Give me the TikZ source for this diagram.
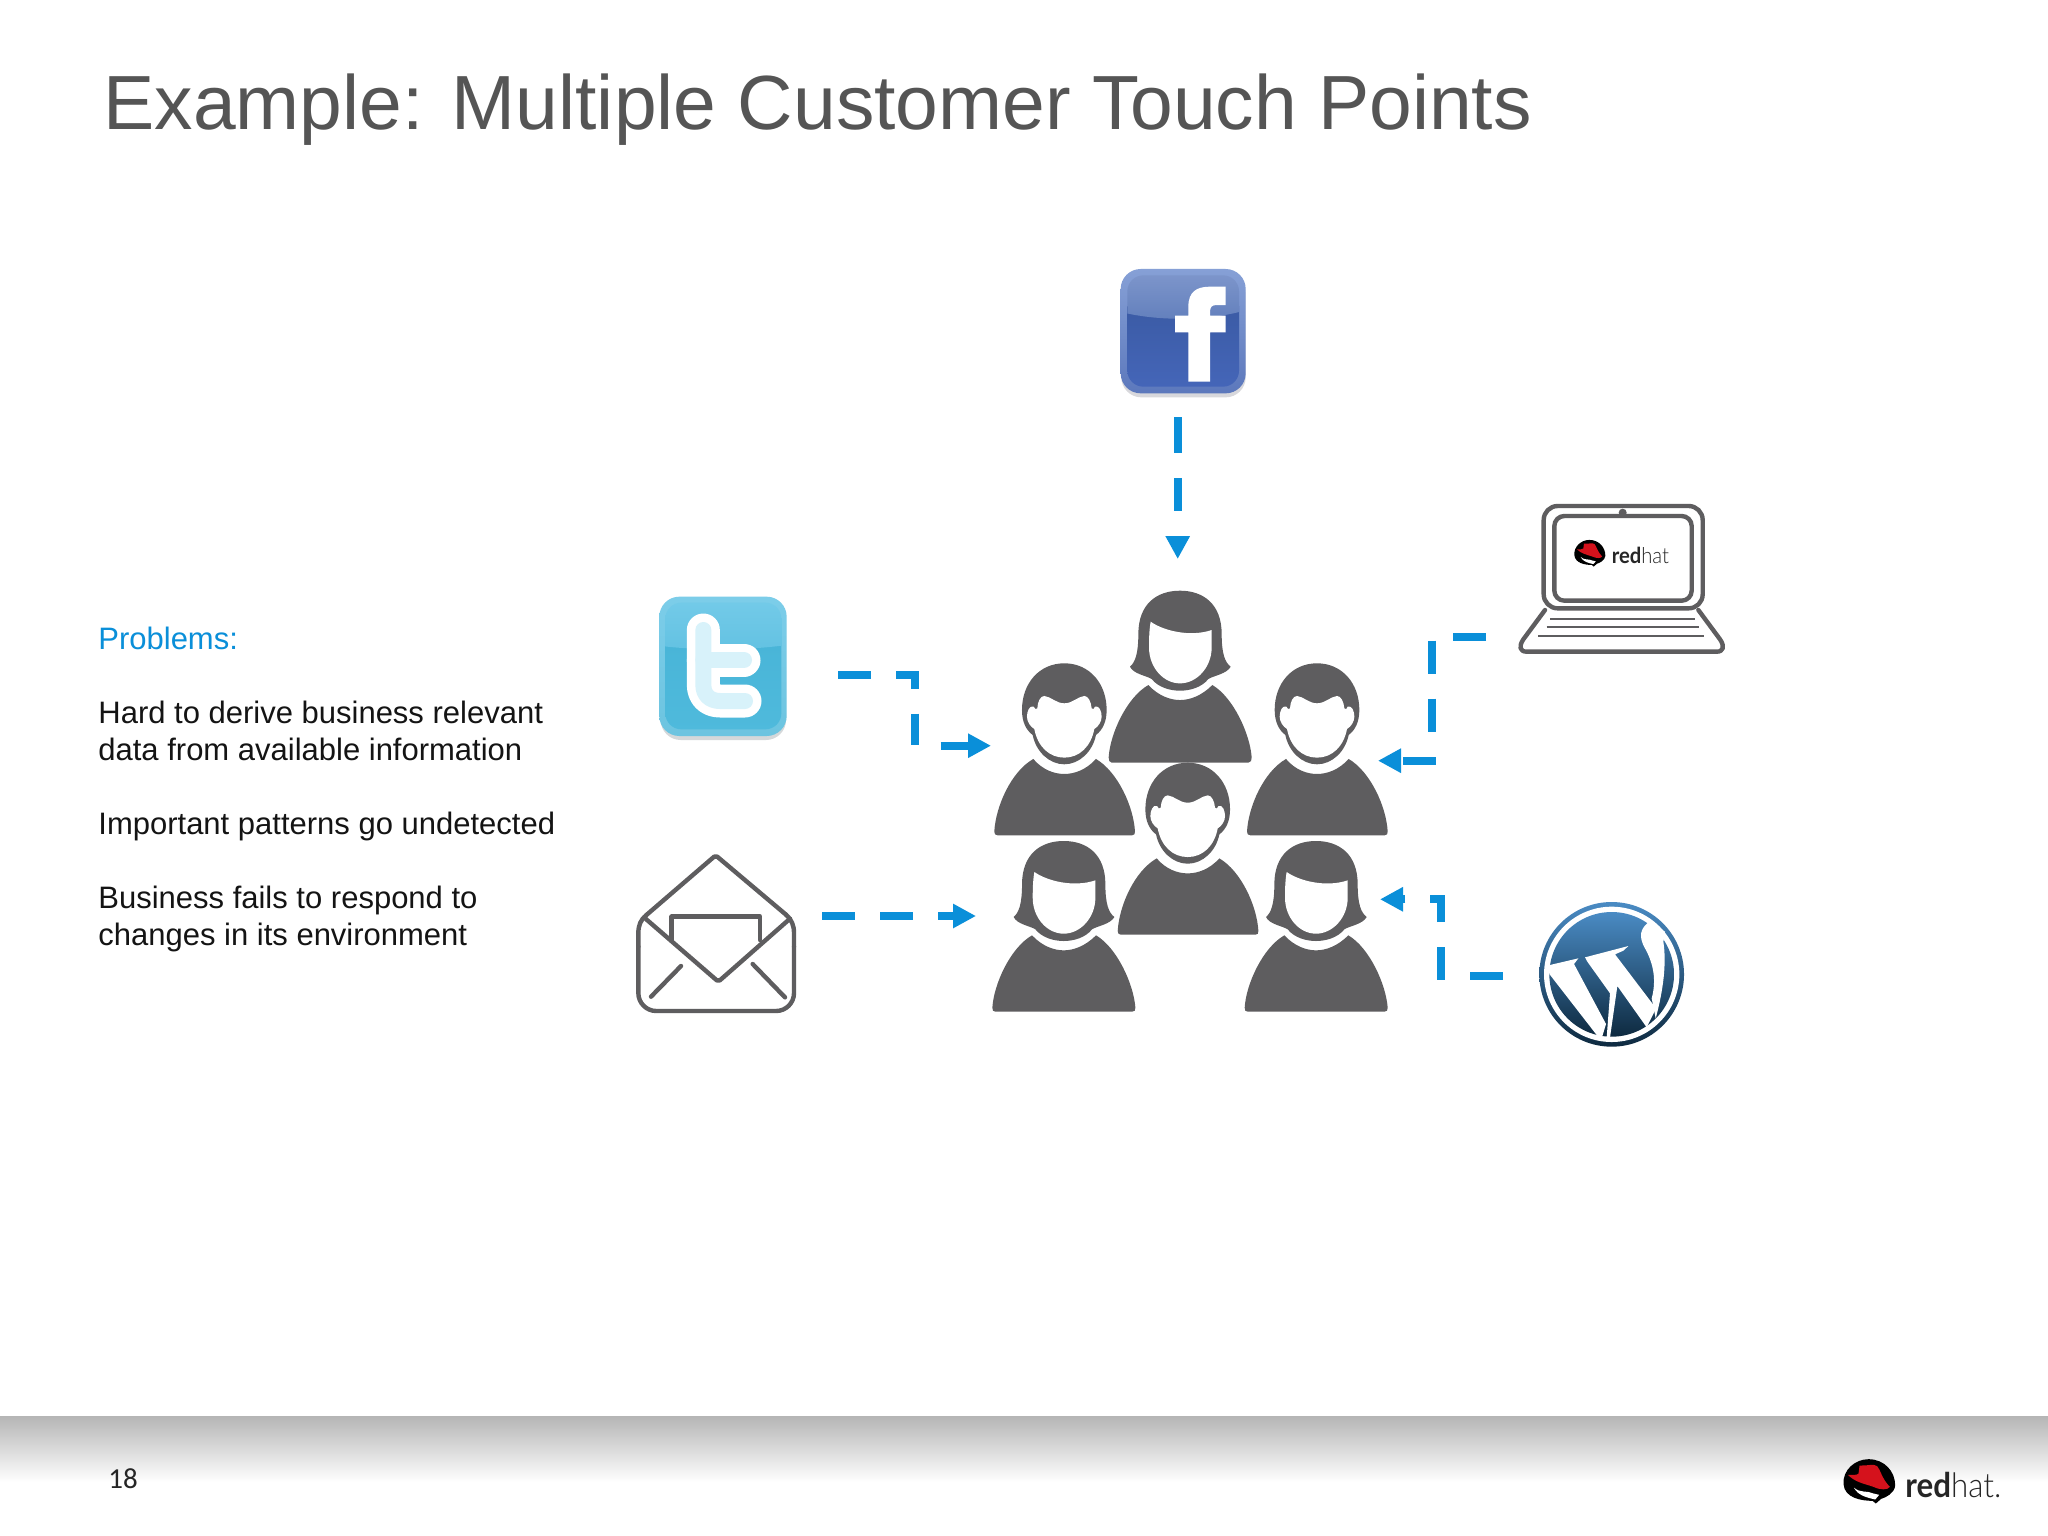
\documentclass[tikz,border=0pt]{standalone}
\usepackage{fontspec}
\setmainfont{Liberation Sans}
\newfontfamily\footfont{Carlito}
\newfontfamily\rhbold{Lato}[BoldFont=Lato Bold,FakeStretch=0.92]
\newfontfamily\rhlight{Lato Light}[FakeStretch=0.92]
\usetikzlibrary{arrows.meta}
\definecolor{rhblue}{HTML}{0A8FD9}
\definecolor{icongray}{HTML}{5E5D5F}
\definecolor{titlegray}{HTML}{555555}
\definecolor{hatred}{HTML}{D5121C}
\tikzset{
  x=0.5pt,y=-0.5pt,
  zoomed/.style={x=0.1666667pt,y=-0.1666667pt},
  conn/.style={draw=rhblue,line width=4pt,dash pattern=on 16.5pt off 12.5pt,line cap=butt,line join=miter,
    -{Triangle[length=11.5pt,width=11.5pt,fill=rhblue]}},
  body/.style={anchor=base west,inner sep=0pt,font=\fontsize{15.5}{18}\selectfont,text=black!92},
  titletext/.style={anchor=base west,inner sep=0pt,font=\fontsize{38.4}{40}\selectfont,text=titlegray},
  outline/.style={draw=icongray,line width=2.2pt,line cap=round,line join=round},
  thinline/.style={draw=icongray,line width=1pt},
  pics/woman/.style={code={\begin{scope}[zoomed]
    \fill[icongray] (-150,228) .. controls (-135,215) and (-125,190) .. (-125,130) .. controls (-125,40) and (-70,0) .. (0,0) .. controls (70,0) and (125,40) .. (125,130) .. controls (125,190) and (135,215) .. (152,228) .. controls (140,250) and (100,255) .. (85,265) .. controls (65,290) and (30,300) .. (0,300) .. controls (-30,300) and (-65,290) .. (-85,265) .. controls (-100,255) and (-140,250) .. (-150,228) -- cycle;
    \fill[white] (-88,93) .. controls (-50,120) and (30,140) .. (95,118) -- (95,170) .. controls (95,230) and (50,278) .. (0,278) .. controls (-50,278) and (-93,230) .. (-93,170) .. controls (-93,140) and (-92,115) .. (-88,93) -- cycle;
    \fill[icongray] (-95,283) .. controls (-65,315) and (-30,328) .. (0,328) .. controls (30,328) and (65,315) .. (97,283) .. controls (160,320) and (210,430) .. (215,500) .. controls (215,508) and (213,#1) .. (205,#1) -- (-205,#1) .. controls (-212,#1) and (-214,508) .. (-214,500) .. controls (-210,430) and (-160,320) .. (-95,283) -- cycle;
  \end{scope}}},
  pics/woman/.default=516,
  pics/man/.style={code={\begin{scope}[zoomed]
    \fill[icongray] (0,0) .. controls (75,0) and (127,60) .. (127,140) .. controls (127,175) and (115,200) .. (95,215) .. controls (85,265) and (45,303) .. (0,303) .. controls (-45,303) and (-85,265) .. (-95,215) .. controls (-115,200) and (-127,175) .. (-127,140) .. controls (-127,60) and (-75,0) .. (0,0) -- cycle;
    \fill[white] (-81,135) .. controls (-80,115) and (-72,98) .. (-60,98) .. controls (-40,100) and (-25,120) .. (0,120) .. controls (25,120) and (40,100) .. (60,98) .. controls (72,98) and (80,115) .. (82,135) .. controls (85,140) and (88,138) .. (92,130) .. controls (105,125) and (112,145) .. (112,160) .. controls (112,175) and (102,190) .. (90,197) .. controls (80,250) and (45,283) .. (0,283) .. controls (-45,283) and (-80,250) .. (-90,197) .. controls (-102,190) and (-112,175) .. (-112,160) .. controls (-112,145) and (-105,125) .. (-92,130) .. controls (-88,138) and (-85,140) .. (-81,135) -- cycle;
    \fill[icongray] (-93,287) .. controls (-65,320) and (-30,332) .. (0,332) .. controls (30,332) and (65,320) .. (95,287) .. controls (160,325) and (208,430) .. (212,505) .. controls (212,512) and (210,516) .. (203,516) -- (-200,516) .. controls (-207,516) and (-210,512) .. (-210,505) .. controls (-206,430) and (-160,325) .. (-93,287) -- cycle;
  \end{scope}}},
}
% red hat emblem; #1 = pt per unit, drawn around the current origin
\newcommand\rhemblem[1]{%
  \begin{scope}[x=#1pt,y=-#1pt]
    \fill[black] (-75,8) .. controls (-78,-35) and (-40,-67) .. (0,-67) .. controls (48,-67) and (80,-30) .. (80,12) .. controls (78,35) and (52,48) .. (38,52) -- (22,66) -- (12,58) .. controls (-20,58) and (-72,50) .. (-75,8) -- cycle;
    \fill[hatred] (-27,-48) .. controls (-5,-46) and (15,-55) .. (26,-46) .. controls (36,-35) and (40,-8) .. (64,16) .. controls (58,26) and (35,26) .. (15,16) .. controls (-15,6) and (-40,2) .. (-62,-20) .. controls (-50,-20) and (-35,-18) .. (-30,-24) -- cycle;
    \fill[white] (-44,18) .. controls (-25,36) and (-5,26) .. (15,36) -- (32,40) -- (20,54) .. controls (-5,48) and (-32,42) .. (-44,18) -- cycle;
  \end{scope}}
\begin{document}
\begin{tikzpicture}
\useasboundingbox (0,0) rectangle (2048,1535);
\fill[white] (0,0) rectangle (2048,1535);
% footer band
\shade[top color=black!29,bottom color=white] (0,1416) rectangle (2048,1482);
% title and text
\node[titletext] (title) at (103,130) {Example: Multiple Customer Touch Points};
\node[body,text=rhblue] (problems) at (98,649) {Problems:};
\node[body] (p1a) at (98,723) {Hard to derive business relevant};
\node[body] (p1b) at (98,760) {data from available information};
\node[body] (p2) at (98,834) {Important patterns go undetected};
\node[body] (p3a) at (98,908) {Business fails to respond to};
\node[body] (p3b) at (98,945) {changes in its environment};
\node[anchor=base west,inner sep=0pt,font=\footfont\fontsize{14.5}{16}\selectfont,text=black!85] (page) at (108,1488) {18};
% people
\pic at (1180,590.7) {woman};
\pic at (1064.3,663.3) {man};
\pic at (1317,663.3) {man};
\pic at (1187.7,762.7) {man};
\pic at (1063.7,841) {woman=512};
\pic at (1316,841) {woman=512};
% facebook icon
\begin{scope}[shift={(1080,250)},zoomed]
  \definecolor{fbs}{HTML}{D8D8DC}
  \definecolor{fbo}{HTML}{86A0D6}\definecolor{fbp}{HTML}{5C78BC}
  \fill[fbs,rounded corners=10pt] (124,72) rectangle (497,442);
  \shade[rounded corners=10pt,top color=fbo,bottom color=fbp] (122,57) rectangle (497,430);
  \begin{scope}
    \clip[rounded corners=8pt] (142,76) rectangle (477,410);
    \definecolor{fbl}{HTML}{3B5BA5}\definecolor{fbm}{HTML}{4566B9}
    \shade[top color=fbl,bottom color=fbm] (100,170) rectangle (500,420);
    \definecolor{fbt}{HTML}{7F97CC}\definecolor{fbu}{HTML}{627FBC}
    \shade[top color=fbt,bottom color=fbu] (100,60) -- (100,180) .. controls (220,215) and (380,215) .. (500,180) -- (500,60) -- cycle;
  \end{scope}
  \fill[white] (325,395) -- (325,247) -- (285,247) -- (285,197) -- (325,197) -- (325,170) .. controls (325,125) and (350,110) .. (390,110) -- (437,110) -- (437,165) -- (410,165) .. controls (395,165) and (390,172) .. (390,185) -- (390,197) -- (437,197) -- (437,247) -- (390,247) -- (390,395) -- cycle;
\end{scope}
% twitter icon
\begin{scope}[shift={(620,580)},zoomed]
  \definecolor{twa}{HTML}{7CCDE9}\definecolor{twb}{HTML}{6CC4E0}\definecolor{tws}{HTML}{D4D8DA}
  \fill[tws,rounded corners=10pt] (122,72) rectangle (498,480);
  \shade[rounded corners=10pt,top color=twa,bottom color=twb] (118,50) rectangle (500,468);
  \begin{scope}
    \clip[rounded corners=8pt] (136,68) rectangle (484,448);
    \definecolor{twc}{HTML}{49B5D8}\definecolor{twd}{HTML}{4FBADC}
    \shade[top color=twc,bottom color=twd] (100,190) rectangle (500,460);
    \definecolor{twe}{HTML}{74CBE9}\definecolor{twf}{HTML}{63C2E2}
    \shade[top color=twe,bottom color=twf] (100,50) -- (100,195) .. controls (220,212) and (380,212) .. (500,195) -- (500,50) -- cycle;
  \end{scope}
  \draw[white,line width=16.5pt,line cap=round,line join=round] (250,150) -- (250,315) .. controls (250,345) and (270,363) .. (300,363) -- (375,363);
  \draw[white,line width=16.5pt,line cap=round] (250,240) -- (372,240);
  \definecolor{twi}{HTML}{D8F2FA}
  \draw[twi,line width=8pt,line cap=round,line join=round] (250,150) -- (250,315) .. controls (250,345) and (270,363) .. (300,363) -- (375,363);
  \draw[twi,line width=8pt,line cap=round] (250,240) -- (372,240);
\end{scope}
% envelope icon
\begin{scope}[shift={(620,580)},zoomed]
  \draw[outline,rounded corners=9pt] (55,1100) -- (55,1293) -- (522,1293) -- (522,1100);
  \draw[outline] (55,1100) -- (55,1060) .. controls (55,1035) and (62,1020) .. (78,1006);
  \draw[outline] (522,1100) -- (522,1060) .. controls (522,1035) and (515,1020) .. (498,1004);
  \draw[outline,rounded corners=1pt] (78,1006) -- (287,826) -- (498,1004);
  \draw[outline,rounded corners=1pt] (72,1012) -- (295,1205) -- (510,1016);
  \draw[outline] (155,1080) -- (155,1010) -- (420,1010) -- (420,1080);
  \draw[outline] (93,1250) -- (183,1158);
  \draw[outline] (495,1252) -- (398,1152);
\end{scope}
% laptop icon
\begin{scope}[shift={(1400,490)},zoomed]
  \draw[outline,rounded corners=7pt] (431,355) rectangle (908,48);
  \draw[outline,rounded corners=5pt] (463,332) rectangle (875,78);
  \fill[icongray] (668,68) circle[radius=12];
  \draw[outline] (435,360) -- (370,448) .. controls (355,470) and (360,485) .. (380,485) -- (950,485) .. controls (970,485) and (975,470) .. (960,448) -- (895,360);
  \draw[thinline] (450,386) -- (885,386);
  \draw[thinline] (440,412) -- (897,412);
  \draw[thinline] (415,438) -- (912,438);
  \begin{scope}[shift={(568,190)}]
    \rhemblem{0.1}
  \end{scope}
  \node[anchor=base west,inner sep=0pt,font=\fontsize{11}{12}\selectfont,text=black!85] (lapred) at (634,220) {{\rhbold\bfseries red}{\rhlight hat}};
\end{scope}
% wordpress icon
\begin{scope}[shift={(1400,620)},zoomed]
  \definecolor{wpt}{HTML}{4A8BC4}\definecolor{wpb}{HTML}{0E2A40}
  \shade[top color=wpt,bottom color=wpb] (635,1063) circle[radius=217];
  \fill[white] (635,1063) circle[radius=203];
  \shade[top color=wpt,bottom color=wpb] (635,1063) circle[radius=187];
  \fill[white] (445,1036) -- (535,1015) -- (522,1032) -- (618,1212) -- (604,1258) -- (590,1245) -- (448,1062) -- cycle;
  \fill[white] (555,1012) -- (685,978) -- (670,992) -- (645,1003) -- (768,1165) -- (740,1222) -- (652,1098) -- (630,1252) -- (620,1252) -- (630,1120) -- (562,1025) -- cycle;
  \fill[white] (748,905) .. controls (720,925) and (715,950) .. (735,985) .. controls (760,1030) and (770,1080) .. (755,1135) -- (767,1195) .. controls (790,1110) and (800,1030) .. (790,965) -- (795,935) -- cycle;
\end{scope}
% connectors
\coordinate (fbS) at (1177.7,417);
\coordinate (fbE) at (1177.7,559);
\draw[conn,dash pattern=on 18pt off 12.5pt on 16.5pt off 12.5pt] (fbS) -- (fbE);
\coordinate (twS) at (838,674.7);
\coordinate (twC) at (915,745.7);
\coordinate (twE) at (991,745.7);
\draw[conn,dash pattern=on 16.5pt off 12.5pt on 16.5pt off 12.5pt on 15.6pt off 13.2pt] (twS) -| (twC) -- (twE);
\coordinate (maS) at (822,916);
\coordinate (maE) at (976,916);
\draw[conn] (maS) -- (maE);
\coordinate (laS) at (1486,637);
\coordinate (laC) at (1431.7,760.7);
\coordinate (laE) at (1378,760.7);
\draw[conn] (laS) -| (laC) -- (laE);
\coordinate (wpS) at (1502.7,976);
\coordinate (wpC) at (1440.7,899.3);
\coordinate (wpE) at (1380,899.3);
\draw[conn] (wpS) -| (wpC) -- (wpE);
% footer logo
\begin{scope}[shift={(1868.5,1481.5)}]
  \rhemblem{0.1666667}
\end{scope}
\node[anchor=base west,inner sep=0pt,font=\fontsize{17}{18}\selectfont,text=black!85] (logotext) at (1905,1497) {{\rhbold\bfseries red}{\rhlight hat.}};
\end{tikzpicture}
\end{document}
